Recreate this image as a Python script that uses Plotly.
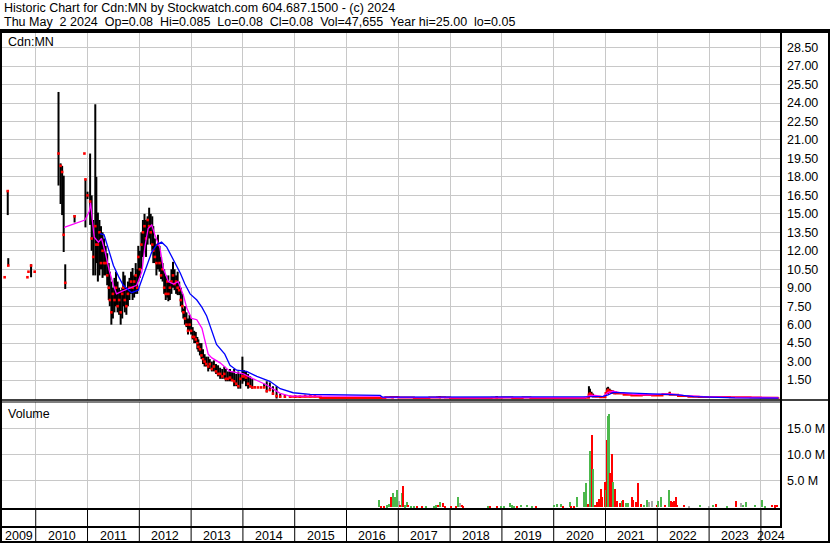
import plotly.graph_objects as go

# ---------------- data ----------------
# OHLC-style bars: decimal year, high, low, close
bar_year = [2009.40, 2009.46, 2009.47, 2009.84, 2009.86, 2009.91, 2009.98,
            2010.44, 2010.48, 2010.51, 2010.54, 2010.57, 2010.75, 2010.94, 2010.96, 2011.00,
            2011.05, 2011.08, 2011.11, 2011.15, 2011.17, 2011.20, 2011.23, 2011.26, 2011.29, 2011.32,
            2011.35, 2011.38, 2011.41, 2011.43, 2011.46, 2011.49, 2011.52, 2011.55, 2011.58, 2011.61,
            2011.64, 2011.67, 2011.69, 2011.72, 2011.75, 2011.78, 2011.81, 2011.84, 2011.87, 2011.90,
            2011.93, 2011.96, 2011.98,
            2012.01, 2012.04, 2012.07, 2012.10, 2012.13, 2012.16, 2012.19, 2012.22, 2012.25, 2012.27,
            2012.30, 2012.33, 2012.36, 2012.39, 2012.42, 2012.45, 2012.48, 2012.51, 2012.54, 2012.56,
            2012.59, 2012.62, 2012.65, 2012.68, 2012.71, 2012.74, 2012.77, 2012.80, 2012.83, 2012.85,
            2012.88, 2012.91, 2012.94, 2012.97,
            2013.00, 2013.03, 2013.06, 2013.09, 2013.12, 2013.14, 2013.17, 2013.20, 2013.23, 2013.26, 2013.29,
            2013.33, 2013.36, 2013.40, 2013.44, 2013.48, 2013.52, 2013.56, 2013.60, 2013.64, 2013.67,
            2013.71, 2013.75, 2013.79, 2013.83, 2013.87, 2013.91, 2013.95, 2013.99,
            2014.02, 2014.06, 2014.10, 2014.14, 2014.18, 2014.23, 2014.29, 2014.35, 2014.41, 2014.46,
            2014.52, 2014.58, 2014.65, 2014.72, 2014.81, 2014.91,
            2015.01, 2015.10, 2015.20, 2015.30, 2015.39, 2015.49,
            2016.89, 2017.80, 2018.90, 2020.68, 2020.70, 2020.73, 2020.76, 2021.03, 2021.05, 2021.08,
            2021.11, 2021.14, 2021.17, 2022.24]
bar_high = [9.85, 16.9, 11.4, 9.85, 10.3, 10.9, 10.3,
            24.9, 19.1, 18.9, 18.1, 10.9, 14.9, 19.9, 17.8, 16.8,
            19.9, 16.5, 14.5, 23.9, 18.0, 15.1, 14.5, 14.0, 13.5, 13.0,
            12.4, 11.8, 11.0, 10.3, 9.5, 9.0, 9.8, 10.3, 9.5, 9.0,
            8.8, 9.0, 10.3, 10.0, 9.0, 9.5, 9.8, 10.3, 10.6, 10.0,
            11.0, 10.5, 12.4,
            12.0, 13.5, 14.5, 15.0, 14.5, 14.8, 15.5, 15.0, 14.8, 14.0,
            13.0, 12.5, 13.3, 12.4, 11.5, 11.0, 10.5, 10.0, 9.8, 10.0,
            9.5, 10.5, 11.1, 10.5, 10.0, 10.3, 9.5, 9.0, 8.5, 7.3,
            7.5, 7.0, 6.5, 6.8,
            6.5, 5.8, 5.5, 5.4, 5.0, 4.8, 4.5, 4.5, 4.0, 3.6, 3.4,
            3.4, 3.2, 3.0, 3.1, 2.8, 2.7, 2.5, 2.4, 2.6, 2.4,
            2.2, 2.4, 2.2, 2.4, 2.0, 2.2, 2.0, 3.4,
            2.3, 2.2, 2.0, 1.8, 1.6, 1.0, 0.9, 0.9, 1.2, 1.4,
            1.3, 1.0, 1.0, 0.4, 0.3, 0.2,
            0.25, 0.2, 0.3, 0.3, 0.25, 0.2,
            0.15, 0.15, 0.15, 1.0, 0.8, 0.55, 0.4, 0.88, 0.95, 0.8,
            0.7, 0.65, 0.6, 0.55]
bar_low = [9.85, 14.9, 10.8, 9.85, 10.3, 9.85, 10.3,
           17.3, 15.8, 14.9, 11.9, 8.9, 14.3, 19.9, 13.9, 16.2,
           14.1, 12.0, 10.0, 10.0, 11.0, 9.5, 10.0, 10.5, 9.8, 10.0,
           10.0, 9.2, 8.0, 7.5, 6.0, 6.5, 7.0, 7.5, 7.0, 6.8,
           6.0, 6.5, 7.5, 7.0, 6.8, 7.5, 8.0, 8.5, 8.0, 8.2,
           8.5, 8.5, 9.5,
           9.8, 10.5, 11.5, 12.0, 11.5, 12.5, 13.0, 12.5, 12.0, 11.0,
           11.0, 10.0, 10.5, 10.3, 9.7, 9.5, 8.5, 8.0, 8.2, 7.9,
           8.0, 8.5, 9.0, 8.8, 8.5, 8.4, 8.4, 7.5, 7.0, 6.5,
           6.0, 5.8, 5.2, 5.5,
           5.2, 4.8, 4.5, 4.5, 4.0, 3.8, 3.5, 3.2, 2.8, 2.6, 2.6,
           2.2, 2.4, 2.2, 2.2, 2.0, 1.8, 1.6, 1.6, 1.6, 1.4,
           1.4, 1.4, 1.4, 1.0, 1.0, 0.8, 0.8, 1.2,
           1.4, 1.0, 0.8, 0.9, 0.8, 0.9, 0.9, 0.85, 0.85, 0.5,
           0.6, 0.3, 0.0, 0.15, 0.15, 0.15,
           0.15, 0.15, 0.15, 0.2, 0.15, 0.1,
           0.08, 0.08, 0.08, 0.05, 0.2, 0.15, 0.1, 0.35, 0.4, 0.45,
           0.4, 0.4, 0.35, 0.3]
bar_close = [9.85, 16.85, 10.8, 9.85, 10.3, 10.8, 10.3,
             19.9, 18.9, 18.4, 13.3, 9.4, 14.8, 19.9, 17.8, 16.5,
             16.0, 13.0, 11.5, 14.0, 12.5, 12.5, 13.5, 11.0, 12.0, 11.0,
             11.0, 10.0, 9.0, 8.0, 7.0, 8.5, 8.0, 9.0, 7.5, 8.0,
             7.0, 8.5, 9.0, 8.0, 7.5, 8.5, 9.0, 9.5, 9.0, 9.5,
             10.0, 9.0, 11.5,
             10.5, 12.5, 13.5, 14.0, 13.0, 14.5, 14.0, 13.5, 12.5, 12.0,
             11.5, 11.0, 12.5, 11.0, 10.0, 10.5, 9.0, 8.5, 9.5, 8.5,
             9.0, 9.5, 10.0, 9.3, 9.5, 9.0, 8.8, 8.0, 7.5, 7.0,
             6.5, 6.0, 5.5, 6.0,
             5.5, 5.0, 5.0, 4.8, 4.5, 4.2, 4.0, 3.5, 3.2, 3.0, 2.8,
             2.6, 2.8, 2.4, 2.6, 2.2, 2.0, 2.0, 1.8, 2.0, 1.6,
             1.6, 1.7, 1.5, 1.4, 1.2, 1.0, 1.6, 1.8,
             1.8, 1.7, 1.2, 1.0, 0.9, 0.9, 0.9, 0.9, 0.9, 0.6,
             0.7, 0.4, 0.2, 0.15, 0.15, 0.15,
             0.15, 0.15, 0.2, 0.2, 0.2, 0.1,
             0.1, 0.1, 0.1, 0.3, 0.4, 0.3, 0.2, 0.6, 0.7, 0.6,
             0.5, 0.55, 0.45, 0.4]

# low-priced tail: close line
tail_year = [2014.91, 2015.50, 2016.65, 2016.75, 2016.85, 2017.00, 2017.30, 2017.60, 2017.75, 2017.90,
             2018.00, 2018.80, 2019.00, 2019.20, 2019.40, 2019.55, 2020.00, 2020.60, 2020.68, 2020.72,
             2020.80, 2020.90, 2021.00, 2021.05, 2021.12, 2021.20, 2021.35, 2021.50, 2021.70, 2021.90,
             2022.10, 2022.24, 2022.40, 2022.60, 2022.80, 2023.00, 2023.40, 2023.80, 2024.00, 2024.34]
tail_close = [0.15, 0.05, 0.05, 0.10, 0.12, 0.08, 0.05, 0.08, 0.10, 0.08,
              0.05, 0.06, 0.08, 0.05, 0.08, 0.05, 0.05, 0.06, 0.30, 0.20,
              0.15, 0.10, 0.45, 0.60, 0.50, 0.40, 0.30, 0.25, 0.28, 0.25,
              0.35, 0.30, 0.20, 0.15, 0.12, 0.12, 0.10, 0.08, 0.07, 0.08]

# moving averages
ma_fast_year = [2010.55, 2010.76, 2010.95, 2011.035, 2011.06, 2011.09, 2011.13, 2011.21, 2011.27, 2011.34,
                2011.42, 2011.50, 2011.56, 2011.66, 2011.82, 2011.95, 2012.05, 2012.11, 2012.17, 2012.24,
                2012.30, 2012.40, 2012.46, 2012.56, 2012.66, 2012.75, 2012.85, 2012.92, 2013.01, 2013.11,
                2013.21, 2013.27, 2013.33, 2013.40, 2013.56, 2013.75, 2014.01, 2014.20, 2014.46, 2014.72,
                2014.91, 2016.65, 2016.70, 2016.90, 2017.50, 2017.80, 2018.50, 2019.40, 2019.80, 2020.60,
                2020.70, 2020.80, 2020.95, 2021.05, 2021.15, 2021.30, 2021.50, 2021.80, 2022.10, 2022.25,
                2022.50, 2022.90, 2023.50, 2024.34]
ma_fast = [13.9, 14.2, 14.5, 15.2, 15.9, 14.6, 13.1, 12.7, 13.0, 11.9,
           10.4, 9.2, 8.5, 8.7, 9.0, 9.2, 10.3, 12.4, 13.8, 14.1,
           13.3, 12.2, 10.6, 9.5, 9.3, 9.5, 8.4, 7.3, 6.5, 6.4,
           5.7, 4.6, 3.6, 3.3, 2.9, 2.2, 2.0, 1.6, 1.1, 0.42,
           0.2, 0.2, 0.08, 0.1, 0.07, 0.1, 0.06, 0.08, 0.06, 0.06,
           0.25, 0.25, 0.15, 0.5, 0.6, 0.45, 0.35, 0.3, 0.35, 0.38,
           0.25, 0.15, 0.1, 0.08]
ma_slow_year = [2011.24, 2011.32, 2011.40, 2011.50, 2011.60, 2011.69, 2011.85, 2011.98, 2012.01, 2012.14,
                2012.24, 2012.34, 2012.43, 2012.53, 2012.63, 2012.72, 2012.79, 2012.88, 2012.98, 2013.11,
                2013.21, 2013.30, 2013.40, 2013.49, 2013.65, 2013.75, 2013.88, 2014.07, 2014.27, 2014.52,
                2014.72, 2014.97, 2015.30, 2015.88, 2016.65, 2016.69, 2017.50, 2018.50, 2019.50, 2020.60,
                2020.75, 2020.95, 2021.05, 2021.15, 2021.30, 2021.60, 2021.90, 2022.20, 2022.40, 2022.70,
                2023.00, 2023.50, 2024.34]
ma_slow = [13.4, 13.3, 12.2, 10.8, 9.9, 9.2, 8.6, 8.8, 9.2, 10.8,
           11.9, 12.5, 12.7, 12.3, 11.5, 10.7, 10.2, 9.3, 8.5, 8.0,
           7.4, 6.7, 5.4, 4.4, 3.6, 2.7, 2.3, 2.2, 1.8, 1.4,
           0.8, 0.47, 0.34, 0.28, 0.25, 0.12, 0.12, 0.1, 0.1, 0.1,
           0.15, 0.18, 0.3, 0.5, 0.48, 0.42, 0.38, 0.36, 0.3, 0.15,
           0.12, 0.05, 0.03]

# volume (millions of shares); u = up day, d = down day, f = unchanged
vol_year = [2016.633, 2016.666, 2016.724, 2016.776, 2016.830, 2016.869, 2016.898, 2016.932, 2016.985, 2017.014,
            2017.033, 2017.066, 2017.100, 2017.139, 2017.168, 2017.197, 2017.245, 2017.303, 2017.361, 2017.458,
            2017.535, 2017.690, 2017.728, 2017.766, 2017.805, 2017.863, 2017.902, 2018.017, 2018.114, 2018.162,
            2018.201, 2018.230, 2018.259, 2018.732, 2018.770, 2018.905, 2018.983, 2019.041, 2019.156, 2019.195,
            2019.234, 2019.292, 2019.378, 2019.485, 2019.581, 2019.659, 2020.006, 2020.064, 2020.151, 2020.180,
            2020.315, 2020.344, 2020.392, 2020.459, 2020.595, 2020.633, 2020.668, 2020.695, 2020.734, 2020.759,
            2020.778, 2020.807, 2020.846, 2020.880, 2020.909, 2020.942, 2020.986, 2021.015, 2021.029, 2021.048,
            2021.073, 2021.097, 2021.125, 2021.151, 2021.180, 2021.208, 2021.232, 2021.280, 2021.313, 2021.344,
            2021.396, 2021.435, 2021.508, 2021.541, 2021.589, 2021.622, 2021.685, 2021.749, 2021.811, 2021.840,
            2021.898, 2021.988, 2022.019, 2022.068, 2022.149, 2022.236, 2022.259, 2022.293, 2022.322, 2022.357,
            2022.390, 2022.515, 2022.622, 2022.825, 2022.998, 2023.075, 2023.143, 2023.346, 2023.515, 2023.612,
            2023.660, 2023.716, 2023.886, 2024.031, 2024.079, 2024.214, 2024.272, 2024.320]
vol_m = [1.34, 0.06, 0.1, 0.3, 0.5, 1.9, 2.6, 1.9, 3.2, 1.2,
         0.4, 2.6, 4.0, 0.3, 0.9, 0.45, 0.25, 0.2, 0.15, 0.1,
         0.1, 0.2, 0.3, 0.45, 0.9, 0.8, 0.25, 0.25, 0.2, 2.0,
         0.7, 0.4, 0.05, 0.05, 0.05, 0.05, 0.1, 0.05, 0.8, 0.3,
         0.25, 0.05, 0.45, 0.45, 0.05, 0.05, 0.45, 0.6, 0.6, 0.05,
         0.9, 0.25, 0.25, 2.0, 2.8, 4.5, 0.6, 10.7, 13.7, 7.3,
         0.4, 0.4, 1.0, 1.5, 3.4, 1.9, 4.7, 3.3, 12.8, 17.4,
         17.7, 6.4, 10.2, 4.8, 3.4, 1.1, 1.2, 0.7, 1.2, 1.3,
         0.8, 0.7, 2.0, 1.4, 0.9, 4.6, 0.6, 0.4, 1.3, 1.0,
         1.1, 0.4, 1.2, 2.0, 0.4, 3.2, 1.1, 1.0, 1.1, 2.0,
         0.4, 0.4, 0.25, 0.4, 0.25, 0.4, 0.6, 0.05, 1.2, 0.7,
         0.4, 0.9, 0.4, 1.3, 0.25, 0.4, 0.3, 0.4]
vol_dir = ['u', 'd', 'd', 'u', 'u', 'd', 'u', 'u', 'u', 'f',
           'd', 'u', 'd', 'u', 'u', 'd', 'u', 'u', 'd', 'd',
           'u', 'u', 'u', 'd', 'u', 'd', 'd', 'd', 'd', 'u',
           'f', 'd', 'd', 'u', 'd', 'd', 'u', 'u', 'u', 'u',
           'u', 'd', 'u', 'u', 'u', 'd', 'u', 'u', 'u', 'd',
           'u', 'd', 'd', 'u', 'u', 'u', 'd', 'u', 'd', 'u',
           'u', 'd', 'd', 'd', 'd', 'd', 'd', 'u', 'd', 'u',
           'u', 'd', 'd', 'u', 'd', 'd', 'd', 'd', 'u', 'd',
           'u', 'u', 'd', 'd', 'd', 'd', 'd', 'u', 'u', 'f',
           'f', 'd', 'u', 'u', 'd', 'u', 'd', 'd', 'd', 'd',
           'd', 'd', 'f', 'u', 'f', 'u', 'd', 'u', 'd', 'f',
           'u', 'u', 'u', 'u', 'u', 'd', 'd', 'd']

years = list(range(2009, 2025))
price_ticks = [1.5 * i for i in range(1, 20)]
vol_ticks = [5, 10, 15]

title_1 = "Historic Chart for Cdn:MN by Stockwatch.com 604.687.1500 - (c) 2024"
title_2 = "Thu May  2 2024  Op=0.08  Hi=0.085  Lo=0.08  Cl=0.08  Vol=47,655  Year hi=25.00  lo=0.05"

assert len(bar_year) == len(bar_high) == len(bar_low) == len(bar_close)
assert len(tail_year) == len(tail_close)
assert len(ma_fast_year) == len(ma_fast) and len(ma_slow_year) == len(ma_slow)
assert len(vol_year) == len(vol_m) == len(vol_dir)

# ---------------- figure ----------------
W, H = 830, 543
FONT = "Liberation Sans, Arial, Helvetica, sans-serif"
GRID = "#c8c8c8"
X_RANGE = [2009.349, 2024.388]


def fx(p):
    return p / W


def fy(p):
    return 1 - p / H


fig = go.Figure()

seg_x, seg_y = [], []
for yr, hi, lo in zip(bar_year, bar_high, bar_low):
    seg_x += [yr, yr, None]
    seg_y += [lo, hi, None]
fig.add_trace(go.Scatter(x=seg_x, y=seg_y, mode="lines", line=dict(color="black", width=2),
                         hoverinfo="skip", xaxis="x", yaxis="y"))
fig.add_trace(go.Scatter(x=tail_year, y=tail_close, mode="lines",
                         line=dict(color="red", width=2, shape="hv"), xaxis="x", yaxis="y"))
fig.add_trace(go.Scatter(x=bar_year, y=bar_close, mode="markers",
                         marker=dict(symbol="square", size=2.6, color="red", line=dict(width=0)),
                         xaxis="x", yaxis="y"))
fig.add_trace(go.Scatter(x=ma_fast_year, y=ma_fast, mode="lines",
                         line=dict(color="#ff00ff", width=1.3), xaxis="x", yaxis="y"))
fig.add_trace(go.Scatter(x=ma_slow_year, y=ma_slow, mode="lines",
                         line=dict(color="#0000ff", width=1.3), xaxis="x", yaxis="y"))

vol_colors = {"u": "#4cb84c", "d": "#ff0000", "f": "#a8a8a8"}
fig.add_trace(go.Bar(x=vol_year, y=vol_m, width=0.026,
                     marker=dict(color=[vol_colors[c] for c in vol_dir], line=dict(width=0)),
                     xaxis="x2", yaxis="y2"))

axis_common = dict(showgrid=True, gridcolor=GRID, gridwidth=1, zeroline=False, showline=False,
                   fixedrange=True)

shapes = [
    # frame around the chart area (below the title block)
    dict(type="rect", xref="paper", yref="paper", x0=0, x1=1, y0=0, y1=fy(31),
         line=dict(color="black", width=4)),
    dict(type="line", xref="paper", yref="paper", x0=0, x1=1, y0=fy(31), y1=fy(31),
         line=dict(color="black", width=2)),
    dict(type="line", xref="paper", yref="paper", x0=0, x1=1, y0=fy(400), y1=fy(400),
         line=dict(color="black", width=1.5)),
    dict(type="line", xref="paper", yref="paper", x0=0, x1=fx(781), y0=fy(402), y1=fy(402),
         line=dict(color="black", width=1)),
    dict(type="line", xref="paper", yref="paper", x0=0, x1=fx(782), y0=fy(509), y1=fy(509),
         line=dict(color="black", width=2)),
    dict(type="line", xref="paper", yref="paper", x0=0, x1=fx(782), y0=fy(527), y1=fy(527),
         line=dict(color="black", width=2)),
    dict(type="line", xref="paper", yref="paper", x0=fx(781), x1=fx(781), y0=fy(527), y1=fy(31),
         line=dict(color="black", width=2)),
]
for yr in years[1:]:
    shapes.append(dict(type="line", xref="x", yref="paper", x0=yr, x1=yr, y0=0, y1=fy(509),
                       line=dict(color="black", width=1)))

annotations = [
    dict(text=title_1, x=fx(2), y=fy(8), xref="paper", yref="paper", xanchor="left", yanchor="middle",
         showarrow=False, font=dict(family=FONT, size=12.5, color="black")),
    dict(text=title_2.replace("  ", " \u00a0"), x=fx(2), y=fy(22.5), xref="paper", yref="paper",
         xanchor="left", yanchor="middle", showarrow=False,
         font=dict(family=FONT, size=12.5, color="black")),
    dict(text="Cdn:MN", x=fx(6), y=fy(42), xref="paper", yref="paper", xanchor="left",
         yanchor="middle", showarrow=False, font=dict(family=FONT, size=12.5, color="black")),
    dict(text="Volume", x=fx(6), y=fy(414), xref="paper", yref="paper", xanchor="left",
         yanchor="middle", showarrow=False, font=dict(family=FONT, size=12.5, color="black")),
]
for yr in years:
    lo = max(yr, X_RANGE[0])
    hi = min(yr + 1, X_RANGE[1])
    annotations.append(dict(text=str(yr), x=(lo + hi) / 2, y=fy(535.5), xref="x", yref="paper",
                            xanchor="center", yanchor="middle", showarrow=False,
                            font=dict(family=FONT, size=12.5, color="black")))

fig.update_layout(
    width=W, height=H, margin=dict(l=0, r=0, t=0, b=0),
    paper_bgcolor="white", plot_bgcolor="white", showlegend=False,
    xaxis=dict(domain=[fx(2), fx(781)], range=X_RANGE, anchor="y", tickvals=years[1:],
               showticklabels=False, ticks="", **axis_common),
    xaxis2=dict(domain=[fx(2), fx(781)], range=X_RANGE, anchor="y2", tickvals=years[1:],
                showticklabels=False, ticks="", matches="x", **axis_common),
    yaxis=dict(domain=[fy(400), fy(32)], range=[-0.12, 29.77], anchor="x", side="right",
               tickvals=price_ticks, ticktext=[f"{v:.2f}" for v in price_ticks], ticks="",
               ticklabelstandoff=5, tickfont=dict(family=FONT, size=12.5, color="black"),
               **axis_common),
    yaxis2=dict(domain=[fy(509), fy(402)], range=[-0.38, 20.04], anchor="x2", side="right",
                tickvals=vol_ticks, ticktext=[f"{v:.1f} M" for v in vol_ticks], ticks="",
                ticklabelstandoff=5, tickfont=dict(family=FONT, size=12.5, color="black"),
                **axis_common),
    shapes=shapes, annotations=annotations, bargap=0,
)

fig.write_html(
    "out.html",
    config={"displayModeBar": False},
    post_script="document.body.style.margin='0';document.body.style.padding='0';"
                "document.body.style.overflow='hidden';",
)
